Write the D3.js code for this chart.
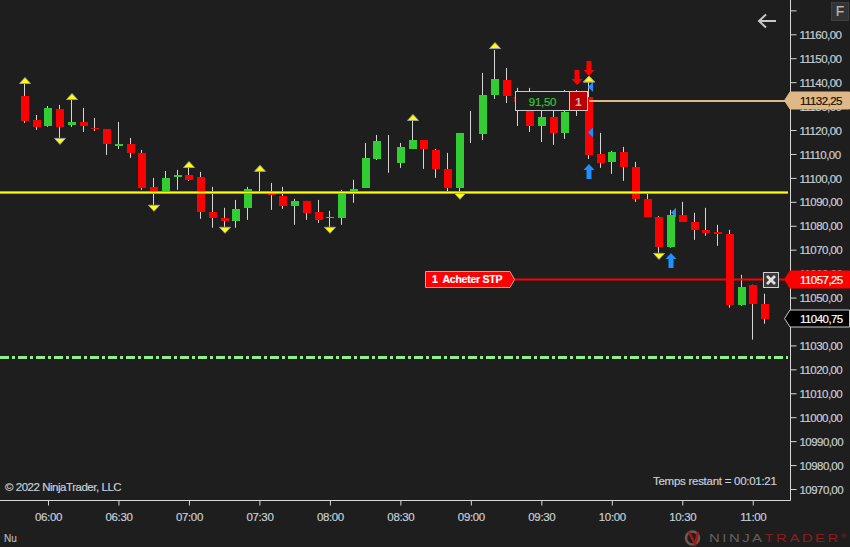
<!DOCTYPE html>
<html><head><meta charset="utf-8">
<script src="https://cdn.jsdelivr.net/npm/d3@7/dist/d3.min.js"></script>
<style>
html,body{margin:0;padding:0;background:#1e1e1e;overflow:hidden}
svg{display:block}
text{font-family:"Liberation Sans",Arial,sans-serif}
</style></head><body><svg id="c" width="850" height="547"></svg>
<script>
const times=["05:50","05:55","06:00","06:05","06:10","06:15","06:20","06:25","06:30","06:35","06:40","06:45","06:50","06:55","07:00","07:05","07:10","07:15","07:20","07:25","07:30","07:35","07:40","07:45","07:50","07:55","08:00","08:05","08:10","08:15","08:20","08:25","08:30","08:35","08:40","08:45","08:50","08:55","09:00","09:05","09:10","09:15","09:20","09:25","09:30","09:35","09:40","09:45","09:50","09:55","10:00","10:05","10:10","10:15","10:20","10:25","10:30","10:35","10:40","10:45","10:50","10:55","11:00","11:05"];
const opens=[11134.25,11124.2,11121.7,11128.8,11122.15,11123.4,11120.9,11120.45,11113.35,11114.2,11110.45,11096.25,11093.95,11100.4,11101.25,11100.4,11085.8,11083.3,11082.05,11087.5,11094,11093.95,11092.5,11088.3,11090.4,11085.8,11083.3,11083.3,11093.3,11095.8,11108,11115,11106.25,11112.1,11115.85,11111.7,11103.75,11096,11110,11118.4,11134.65,11140.9,11133.8,11130.5,11121.7,11125.45,11118.8,11134.25,11133.8,11110,11106.7,11110.85,11104.6,11091.25,11083.7,11071.2,11084.55,11081.65,11078.3,11077.45,11076.6,11047,11055.35,11047.4];
const highs=[11139.25,11126.3,11130.05,11130.5,11133,11129.25,11125.05,11120.45,11123.4,11116.7,11111.7,11100,11102.9,11103.35,11104.2,11102.5,11096.25,11087.5,11090.8,11096.25,11103.35,11097.9,11096.25,11091.25,11090.4,11090.8,11086.25,11095,11099.2,11114.6,11117.95,11117.95,11114.6,11125.05,11115.85,11112.1,11110.45,11118.8,11128,11143.85,11153.45,11145.9,11137.6,11137.6,11132.55,11130.5,11136.75,11136.75,11140.1,11118.8,11111.3,11112.95,11106.7,11094,11084.1,11086.65,11090,11085.4,11087.5,11080.4,11078.3,11059.5,11055.35,11051.6];
const lows=[11122.95,11120.05,11121.3,11116.7,11121.3,11119.2,11119.6,11109.6,11112.1,11108.35,11095,11088.75,11093.3,11095,11098.75,11082.9,11079.15,11079.55,11079.15,11082.45,11093.3,11086.65,11087.05,11080.4,11082.45,11081.2,11079.55,11080.4,11089.6,11095.8,11107.5,11102.1,11104.2,11112.1,11103.75,11100,11094.15,11092.9,11114.6,11115.85,11133,11131.3,11121.7,11119.2,11115,11113.8,11116.3,11125.9,11107.9,11104.2,11101.7,11098.75,11090,11083.7,11068.7,11070.8,11081.65,11074.1,11075.8,11071.6,11045.75,11046.6,11032.4,11039.05];
const closes=[11123.8,11121.3,11129.25,11121.3,11123.4,11121.7,11120.45,11114.2,11114.2,11110.45,11095.8,11094,11100,11101.25,11099.2,11085.8,11083.3,11082.05,11087.05,11095.4,11094,11092.5,11088.3,11090.4,11085.4,11082.45,11083.6,11093.3,11095.4,11108.35,11115.45,11115,11113,11115.85,11112.1,11103.75,11095.8,11118.8,11110,11134.65,11141.3,11134.25,11131.75,11121.7,11125.45,11118.8,11127.55,11128,11109.6,11106.25,11110.85,11104.6,11091.25,11083.7,11071.2,11084.55,11081.65,11078.3,11077.05,11076.6,11047,11054.5,11047.4,11041.15];

const upIdx=["05:50","06:10","07:00","07:30","08:35","09:10","09:50"], upPrice=[11140.7,11134,11105.6,11104,11125.25,11155.3,11141.3];
const downIdx=["06:05","06:45","07:15","08:00","08:55","10:20"], downPrice=[11115.25,11087.3,11078.1,11078.1,11092.3,11067.2];
const redArrowIdx=["09:45","09:50"], redArrowPrice=[11145.1,11148.85];
const blueUpIdx=["09:50","10:25"], blueUpPrice=[11099.6,11062.4];
const blueLeftOverIdx=["09:50","09:50"], blueLeftOverPrice=[11138,11119];
const blueLeftUnderIdx=["10:25"], blueLeftUnderPrice=[11085.4];

const yTicks=d3.range(10970,11171,10);
const xTicks=["06:00","06:30","07:00","07:30","08:00","08:30","09:00","09:30","10:00","10:30","11:00"];
const levelYellow=11094, levelGreen=11025.25, levelTarget=11132.25, levelStop=11057.25, lastPrice=11040.75;
const pnlText="91,50", qtyText="1", orderText="1  Acheter STP";

const W=850,H=547,axisX=790.5,axisY=500.5;
const x=d3.scalePoint().domain(times).range([24.5,764.5]);
const y=d3.scaleLinear().domain([10970,11160]).range([489,34.3]);
const comma=v=>v.toFixed(2).replace(".",",");
const px=t=>Math.floor(x(t))+.5;
const svg=d3.select("#c");
svg.append("rect").attr("width",W).attr("height",H).attr("fill","#1e1e1e");

const gy=svg.append("g").attr("transform",`translate(${axisX},0)`).call(d3.axisRight(y).tickValues(yTicks).tickSize(6).tickPadding(3).tickFormat(v=>v>11160?"":comma(v)));
gy.select(".domain").remove();
gy.selectAll("line").attr("stroke","#d8d8d8");
gy.selectAll("text").attr("fill","#c8d0d8").attr("font-size",11.5).attr("font-family","Liberation Sans").attr("letter-spacing","-0.55px").attr("dy","0.36em");
const gx=svg.append("g").attr("transform",`translate(0,${axisY})`).call(d3.axisBottom(x).tickValues(xTicks).tickSize(5).tickPadding(7));
gx.select(".domain").remove();
gx.selectAll("line").attr("stroke","#d8d8d8");
gx.selectAll("text").attr("fill","#c8d0d8").attr("font-size",11.5).attr("font-family","Liberation Sans").attr("letter-spacing","-0.35px");
svg.append("path").attr("d",`M${axisX} 0V${axisY}H0`).attr("fill","none").attr("stroke","#d8d8d8");

const leftTri=(parent,idx,pr)=>parent.append("g").selectAll("path").data(idx.map((t,i)=>[t,pr[i]])).join("path")
 .attr("d",d=>{const X=px(d[0])-.5,Y=y(d[1]);return `M${X} ${Y}L${X+5} ${Y-5}V${Y+5}Z`;}).attr("fill","#1e90ff");
leftTri(svg,blueLeftUnderIdx,blueLeftUnderPrice).attr("transform","translate(1,0)");

const bars=times.map((t,i)=>({t,o:opens[i],h:highs[i],l:lows[i],c:closes[i]}));
const gc=svg.append("g");
gc.selectAll("line").data(bars).join("line")
 .attr("x1",d=>px(d.t)).attr("x2",d=>px(d.t)).attr("y1",d=>y(d.h)).attr("y2",d=>y(d.l))
 .attr("stroke","#d6d6d6").attr("stroke-width",1);
gc.selectAll("rect").data(bars.filter(d=>d.o!==d.c)).join("rect")
 .attr("x",d=>Math.floor(x(d.t))-3).attr("width",8)
 .attr("y",d=>Math.round(y(Math.max(d.o,d.c))))
 .attr("height",d=>Math.max(1,Math.round(y(Math.min(d.o,d.c))-y(Math.max(d.o,d.c)))))
 .attr("fill",d=>d.c>d.o?"#32cd32":"#ff0000");

// levels
const line=(v,x0,x1,col,w,dash)=>svg.append("line").attr("x1",x0).attr("x2",x1).attr("y1",Math.round(y(v))+.5).attr("y2",Math.round(y(v))+.5).attr("stroke",col).attr("stroke-width",w).attr("stroke-dasharray",dash||null);
line(levelYellow,0,788,"#8a8a3a",3); line(levelYellow,0,788,"#ffff00",1.5);
line(levelGreen,0,788,"#90ee90",3,"9 3 3 3");

// arrows
const gs=svg.append("g");
const tri=(data,dir)=>gs.append("g").selectAll("path").data(data).join("path")
 .attr("d",d=>{const X=px(d[0])+.5,Y=y(d[1]);return `M${X-5.5} ${Y+dir*3}L${X} ${Y-dir*3}L${X+5.5} ${Y+dir*3}Z`;})
 .attr("fill","#ffff00").attr("stroke","#a0a0a0").attr("stroke-width",1);
tri(upIdx.map((t,i)=>[t,upPrice[i]]),1);
tri(downIdx.map((t,i)=>[t,downPrice[i]]),-1);
const arrowV=(idx,pr,col,dir)=>gs.append("g").selectAll("path").data(idx.map((t,i)=>[t,pr[i]])).join("path")
 .attr("d",d=>{const X=px(d[0])+.5,Y=Math.round(y(d[1]));
  return `M${X-2.5} ${Y}v${dir*9}h-3l5.5 ${dir*6}l5.5 ${-dir*6}h-3v${-dir*9}z`;})
 .attr("fill",col);
leftTri(gs,blueLeftOverIdx,blueLeftOverPrice);
arrowV(blueUpIdx,blueUpPrice,"#1e90ff",-1);

// target line + pnl box
svg.append("line").attr("x1",589).attr("x2",786).attr("y1",Math.round(y(levelTarget))).attr("y2",Math.round(y(levelTarget))).attr("stroke","#deb887").attr("stroke-width",2);
const box=svg.append("g");
box.append("rect").attr("x",515.5).attr("y",91.5).attr("width",54).attr("height",19).attr("fill","#1e1e1e").attr("stroke","#c8c8c8");
box.append("rect").attr("x",569.5).attr("y",91.5).attr("width",18).attr("height",19).attr("fill","#b80000").attr("stroke","#c8c8c8");
box.append("text").attr("x",542.5).attr("y",105.5).attr("text-anchor","middle").attr("fill","#32cd32").attr("font-size",11.5).attr("letter-spacing","-0.3px").text(pnlText);
box.append("text").attr("x",578.5).attr("y",105.5).attr("text-anchor","middle").attr("fill","#d0a8a8").attr("font-size",11.5).attr("font-weight",700).text(qtyText);
// red/yellow overlays above box
arrowV(redArrowIdx,redArrowPrice,"#ff0000",1);
tri([["09:50",upPrice[6]]],1);

// stop line and order label
const yS=Math.round(y(levelStop)-1);
svg.append("line").attr("x1",514).attr("x2",786).attr("y1",yS+.5).attr("y2",yS+.5).attr("stroke","#ff0000").attr("stroke-width",2);
svg.append("path").attr("d",`M425.5 ${yS-7.5}H510L514.5 ${yS+.5}L510 ${yS+8.5}H425.5Z`).attr("fill","#ff0000").attr("stroke","#d0a0a0");
svg.append("text").attr("x",432).attr("y",yS+4).attr("fill","#fff").attr("font-size",10.5).attr("font-weight",700).attr("letter-spacing","-0.25px").attr("xml:space","preserve").style("white-space","pre").text(orderText);
// close button
const xb=svg.append("g");
xb.append("rect").attr("x",763.5).attr("y",272.5).attr("width",15).attr("height",15).attr("fill","#3a3a3a").attr("stroke","#d0d0d0");
xb.append("path").attr("d","M767 276L775 284M775 276L767 284").attr("stroke","#e0e0e0").attr("stroke-width",2.8);

// price flags
const flag=(v,off,fill,stroke,col)=>{const Y=Math.round(y(v)+off)-.5;
 svg.append("path").attr("d",`M784.5 ${Y}L790 ${Y-8.5}H849.5V${Y+8.5}H790Z`).attr("fill",fill).attr("stroke",stroke);
 svg.append("text").attr("x",800).attr("y",Y+4.5).attr("fill",col).attr("font-size",11.5).attr("letter-spacing","-0.55px").text(comma(v));};
flag(levelTarget,0,"#deb887","#deb887","#1a0a00");
flag(levelStop,0,"#ff0000","#ff0000","#ffffff");
flag(lastPrice,-1,"#000000","#c8c8c8","#ffffff");

// UI bits
svg.append("path").attr("d","M776 21H759M766 14.5L759 21L766 27.5").attr("fill","none").attr("stroke","#c8c8c8").attr("stroke-width",2);
svg.append("rect").attr("x",831.5).attr("y",2.5).attr("width",17).attr("height",18).attr("fill","#333").attr("stroke","#3f3f3f");
svg.append("text").attr("x",840).attr("y",16).attr("text-anchor","middle").attr("fill","#b8b8b8").attr("font-size",14).text("F");
svg.append("text").attr("x",5).attr("y",491).attr("fill","#c8d0d8").attr("font-size",11.5).attr("letter-spacing","-0.47px").text("© 2022 NinjaTrader, LLC");
svg.append("text").attr("x",653).attr("y",485).attr("fill","#c8d0d8").attr("font-size",11.5).attr("letter-spacing","-0.27px").text("Temps restant = 00:01:21");
svg.append("text").attr("x",4).attr("y",542).attr("fill","#b8b8b8").attr("font-size",10).text("Nu");
svg.selectAll("text").attr("stroke",function(){return d3.select(this).attr("fill");}).attr("stroke-width",.18);

const logo=svg.append("g");
logo.append("circle").attr("cx",692.5).attr("cy",538).attr("r",6.5).attr("fill","none").attr("stroke","#6e5a50").attr("stroke-width",2.5);
logo.append("path").attr("d","M689 532L695 544L698 532").attr("fill","none").attr("stroke","#a01818").attr("stroke-width",2.5);
const t=logo.append("text").attr("transform","translate(709,542) scale(1.3,1)").attr("font-size",11.5).attr("letter-spacing","1.9px");
t.append("tspan").attr("fill","#64605c").text("NINJA");
t.append("tspan").attr("fill","#8e1c20").text("TRADER");
t.append("tspan").attr("fill","#8e1c20").attr("font-size",6).attr("letter-spacing","0").attr("dy",-4).text("®");
</script></body></html>
